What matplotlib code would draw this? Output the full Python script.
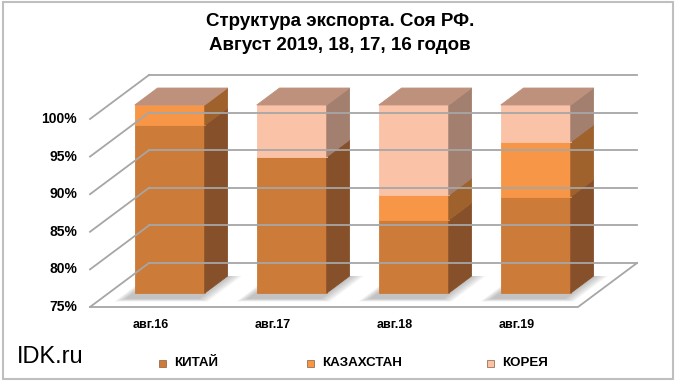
import matplotlib
matplotlib.use("Agg")
import matplotlib.pyplot as plt
from matplotlib.patches import Polygon, Rectangle

# данные: доли в экспорте, %
categories = ["авг.16", "авг.17", "авг.18", "авг.19"]
series_names = ["КИТАЙ", "КАЗАХСТАН", "КОРЕЯ"]
china = [97.3, 93.1, 84.7, 87.8]
kazakhstan = [2.7, 0.0, 3.3, 7.3]
korea = [0.0, 6.9, 12.0, 4.9]
yticks = [75, 80, 85, 90, 95, 100]
ytick_labels = ["75%", "80%", "85%", "90%", "95%", "100%"]

front_colors = ["#CC7B38", "#F79646", "#FAC3A8"]
side_colors = ["#86502A", "#A0622C", "#A37F6F"]
top_color = "#BE917D"
grid_color = "#A6A6A6"

W, H = 680, 385
fig = plt.figure(figsize=(W / 100, H / 100), dpi=100)

# pseudo-3d: px per category, px per percent, depth offset in px
PX_CAT = 122.0
PX_PCT = 7.52
left_px, floor_px, back_dx, back_dy = 90, 307, 59, 44
ax_w = len(categories) * PX_CAT + back_dx
ax_h = (100 - 75) * PX_PCT + back_dy
ax = fig.add_axes([left_px / W, (H - floor_px) / H, ax_w / W, ax_h / H])
ax.set_xlim(0, ax_w / PX_CAT)
ax.set_ylim(75, 75 + ax_h / PX_PCT)
ax.axis("off")

DX = back_dx / PX_CAT
DY = back_dy / PX_PCT
n = len(categories)


def proj(u, v, d):
    return (u + d * DX, v + d * DY)


def poly(pts, **kw):
    ax.add_patch(Polygon([proj(*p) for p in pts], closed=True, clip_on=False, **kw))


# floor + walls grid
for v in yticks:
    ax.plot(*zip(proj(0, v, 0), proj(0, v, 1)), color=grid_color, lw=1.3, clip_on=False)
    ax.plot(*zip(proj(0, v, 1), proj(n, v, 1)), color=grid_color, lw=1.3, clip_on=False)
ax.plot(*zip(proj(0, 75, 0), proj(n, 75, 0), proj(n, 75, 1)), color=grid_color, lw=1.3,
        clip_on=False)

BW = 70 / PX_CAT
d0, d1 = 0.318, 0.704

# soft shadows on the floor
for i in range(n):
    x0 = i + 0.5 - BW / 2
    x1 = x0 + BW
    for k in range(6):
        m = 0.012 * (k + 1)
        poly([(x0 - m, 75, d0 - 0.12 - m), (x1 + 1.6 * m, 75, d0 - 0.12 - m),
              (x1 + 1.6 * m, 75, d1), (x0 - m, 75, d1)],
             facecolor="#7A7A7A", edgecolor="none", alpha=0.09)

series = [china, kazakhstan, korea]
for i in range(n):
    x0 = i + 0.5 - BW / 2
    x1 = x0 + BW
    cum = 0.0
    for s, vals in enumerate(series):
        lo, hi = cum, cum + vals[i]
        cum = hi
        if vals[i] <= 0 or hi <= 75:
            continue
        lo = max(lo, 75)
        poly([(x0, lo, d0), (x1, lo, d0), (x1, hi, d0), (x0, hi, d0)],
             facecolor=front_colors[s], edgecolor=front_colors[s], lw=0.6)
        poly([(x1, lo, d0), (x1, lo, d1), (x1, hi, d1), (x1, hi, d0)],
             facecolor=side_colors[s], edgecolor=side_colors[s], lw=0.6)
    poly([(x0, cum, d0), (x1, cum, d0), (x1, cum, d1), (x0, cum, d1)],
         facecolor=top_color, edgecolor=top_color, lw=0.6)

# axis labels
for v, lab in zip(yticks, ytick_labels):
    ax.annotate(lab, xy=proj(0, v, 0), xytext=(-13, 0), textcoords="offset pixels",
                ha="right", va="center", fontsize=10, fontweight="bold",
                family=["Liberation Sans", "DejaVu Sans"], annotation_clip=False)
for i, lab in enumerate(categories):
    ax.annotate(lab, xy=proj(i + 0.5, 75, 0), xytext=(0, -18), textcoords="offset pixels",
                ha="center", va="center", fontsize=9, fontweight="bold",
                family=["Liberation Sans", "DejaVu Sans"], annotation_clip=False)

narrow = ["Liberation Sans Narrow", "Liberation Sans", "DejaVu Sans"]
fig.text(340 / W, 1 - 22 / H, "Структура экспорта. Соя РФ.", ha="center", va="center",
         fontsize=13.5, fontweight="bold", family=narrow)
fig.text(340 / W, 1 - 45 / H, "Август 2019, 18, 17, 16 годов", ha="center", va="center",
         fontsize=13.5, fontweight="bold", family=narrow)
fig.text(17 / W, 1 - 357 / H, "IDK.ru", ha="left", va="center", fontsize=17,
         family=["Liberation Sans", "DejaVu Sans"])

# legend
leg_x = [159, 307, 487]
for x, name, fc in zip(leg_x, series_names, front_colors):
    fig.patches.append(Rectangle((x / W, 1 - 367 / H), 7 / W, 7 / H,
                                 transform=fig.transFigure, facecolor=fc,
                                 edgecolor="#8A5A3A", lw=0.5))
    fig.text((x + 15) / W, 1 - 363 / H, name, ha="left", va="center", fontsize=9.6,
             fontweight="bold", family=narrow)

# outer frame
fig.patches.append(Rectangle((3 / W, 1 - 379 / H), 670 / W, 377 / H,
                             transform=fig.transFigure, facecolor="none",
                             edgecolor="#BFBFBF", lw=1.5))

fig.savefig("out.png", dpi=100)
